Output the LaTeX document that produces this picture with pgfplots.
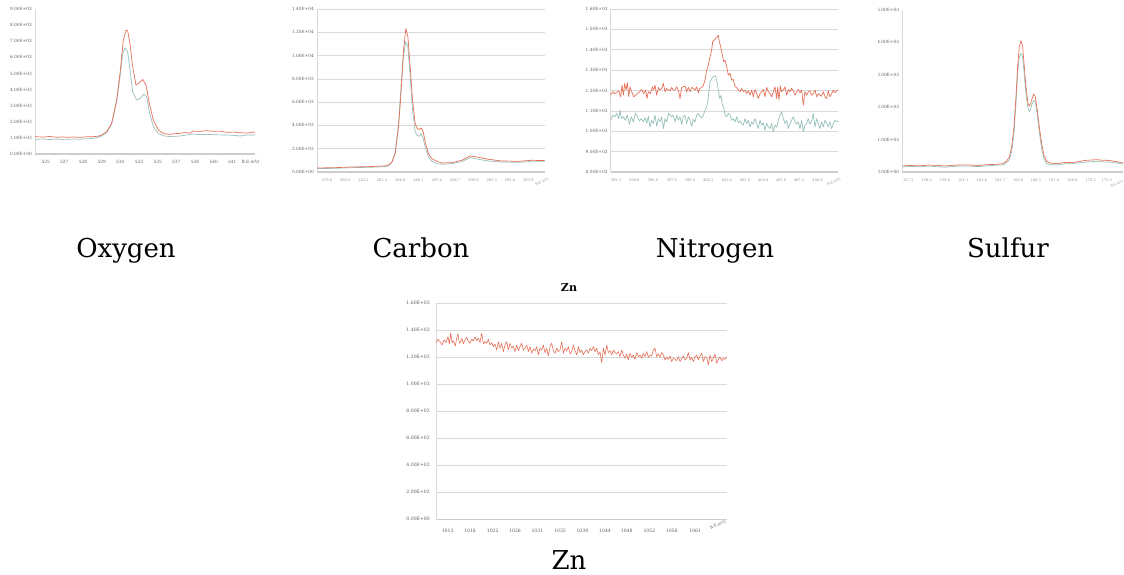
\documentclass[border=0pt]{standalone}
\usepackage{fontspec}
\setmainfont{DejaVu Serif}
\usepackage{pgfplots}
\pgfplotsset{compat=1.18}
\definecolor{sred}{RGB}{228,112,88}
\definecolor{steal}{RGB}{150,192,186}
\definecolor{gridc}{RGB}{217,217,217}
\definecolor{axc}{RGB}{205,205,205}
\definecolor{labc}{RGB}{95,95,95}
\pgfplotsset{
 xps/.style={scale only axis, anchor=south west, axis x line*=bottom, axis y line*=left,
   scaled ticks=false,
   x axis line style={draw=axc, line width=1.3pt}, y axis line style={draw=gridc, line width=0.6pt},
   major tick length=0pt, tick style={draw=none},
   grid style={draw=gridc, line width=0.6pt},
   yticklabel style={font=\fontsize{4.3}{5}\selectfont, text=labc, inner sep=1pt, xshift=-2pt},
   xticklabel style={font=\fontsize{3.6}{4}\selectfont, text=labc!70, yshift=-3pt},
   every axis plot/.append style={line width=0.7pt, mark=none, line join=round},
 }
}
\begin{document}
\begin{tikzpicture}
\useasboundingbox (0,0) rectangle (1124pt,575pt);
% ---------------- Oxygen
\begin{axis}[xps, at={(35pt,421pt)}, width=220pt, height=145pt,
  xmin=105, xmax=765, ymin=0, ymax=9000,
  ytick={0,1000,...,9000},
  yticklabels={0.00E+00,1.00E+03,2.00E+03,3.00E+03,4.00E+03,5.00E+03,6.00E+03,7.00E+03,8.00E+03,9.00E+03},
  xtick={137,193,249,305,361,417,473,529,585,641,697},
  xticklabels={525,527,528,529,530,533,535,537,538,540,541},
  xticklabel style={font=\fontsize{4.3}{5}\selectfont, text=labc}]
\addplot[steal] coordinates {(105,909)(130,930)(150,900)(170,920)(190,905)(200,909)(220,930)(240,915)(260,940)(280,970)(295,1040)(305,1116)(320,1322)(335,1860)(350,3243)(360,4793)(368,6200)(375,6590)(383,6343)(390,5207)(398,3864)(410,3347)(420,3450)(432,3719)(440,3554)(448,2624)(460,1694)(475,1281)(490,1136)(510,1074)(525,1100)(540,1116)(560,1180)(580,1240)(600,1200)(620,1219)(650,1190)(680,1178)(700,1160)(720,1116)(740,1180)(765,1178)};
\addplot[sred] coordinates {(105,1074)(130,1050)(150,1085)(170,1040)(190,1060)(200,1033)(220,1055)(240,1030)(260,1065)(280,1074)(295,1110)(305,1178)(320,1384)(335,1900)(350,3347)(360,5000)(370,7066)(378,7686)(383,7645)(390,6860)(398,5413)(408,4277)(418,4421)(428,4628)(438,4277)(448,3140)(460,2107)(475,1488)(490,1281)(500,1240)(510,1219)(525,1260)(540,1281)(555,1330)(570,1300)(580,1425)(600,1400)(620,1446)(640,1410)(660,1420)(680,1343)(700,1360)(720,1322)(740,1300)(765,1364)};
\end{axis}
\node[anchor=west, font=\fontsize{4.3}{5}\selectfont, text=labc] at (238pt,413pt) {B.E.(eV)};
% ---------------- Carbon
\begin{scope}
\clip (291pt,380pt) rectangle (560pt,575pt);
\begin{axis}[xps, at={(317pt,403pt)}, width=228pt, height=163pt,
  xmin=95, xmax=780, ymin=0, ymax=14000, ymajorgrids,
  ytick={0,2000,...,14000},
  yticklabels={0.00E+00,2.00E+03,4.00E+03,6.00E+03,8.00E+03,1.00E+04,1.20E+04,1.40E+04},
  xtick={125,180,235,290,345,400,455,510,565,620,675,730},
  xticklabels={279.6,280.9,282.2,283.5,284.8,286.1,287.4,288.7,290.0,291.3,292.6,293.9}]
\addplot[steal] coordinates {(95,287)(150,316)(200,373)(250,402)(300,459)(310,545)(320,804)(330,1722)(340,4162)(348,7605)(355,10045)(362,11193)(368,10763)(375,8180)(382,5310)(390,3444)(396,3157)(402,3071)(408,3301)(414,2870)(420,2153)(430,1292)(440,918)(455,718)(470,660)(500,718)(530,890)(555,1234)(575,1119)(610,947)(650,861)(700,832)(740,890)(780,890)};
\addplot[sred] coordinates {(95,344)(150,373)(200,431)(250,459)(300,517)(310,603)(320,861)(330,1579)(340,3875)(348,7032)(355,10476)(362,12341)(368,11624)(375,9041)(382,6171)(390,4162)(396,3731)(402,3645)(408,3788)(414,3444)(420,2583)(430,1579)(440,1148)(455,918)(470,775)(500,804)(530,1005)(555,1378)(575,1292)(610,1091)(650,947)(700,918)(740,1005)(780,976)};
\end{axis}
\end{scope}
\node[rotate=25, font=\fontsize{3.4}{4}\selectfont, text=labc!70] at (542pt,393pt) {B.E.(eV)};
% ---------------- Nitrogen
\begin{scope}
\clip (582pt,380pt) rectangle (850pt,575pt);
\begin{axis}[xps, at={(610.7pt,403pt)}, width=227.6pt, height=163pt,
  xmin=107, xmax=790, ymin=800, ymax=1600, ymajorgrids,
  ytick={800,900,...,1600},
  yticklabels={8.00E+02,9.00E+02,1.00E+03,1.10E+03,1.20E+03,1.30E+03,1.40E+03,1.50E+03,1.60E+03},
  xtick={122,178,234,290,345,400,455,510,565,618,672,728},
  xticklabels={393.2,394.6,396.0,397.4,398.8,400.2,401.6,403.0,404.4,405.8,407.2,408.6}]
\addplot[steal] coordinates {(107,1054)(113,1079)(119,1071)(125,1087)(131,1062)(135,1103)(139,1062)(145,1071)(151,1054)(157,1079)(163,1034)(169,1071)(175,1046)(181,1087)(187,1071)(193,1051)(199,1062)(205,1046)(210,1067)(215,1038)(220,1074)(225,1021)(230,1054)(235,1038)(240,1079)(245,1025)(250,1062)(255,1046)(260,1071)(265,1013)(270,1062)(275,1046)(280,1087)(285,1079)(290,1071)(295,1079)(300,1046)(305,1079)(310,1054)(315,1071)(320,1034)(325,1071)(330,1079)(335,1038)(340,1071)(345,1054)(350,1025)(355,1058)(360,1046)(365,1079)(370,1087)(375,1071)(380,1067)(385,1079)(390,1103)(395,1120)(400,1169)(405,1243)(410,1259)(414,1267)(418,1271)(422,1271)(426,1243)(430,1202)(434,1161)(438,1177)(442,1128)(446,1120)(450,1079)(455,1071)(460,1087)(465,1079)(470,1054)(475,1062)(480,1046)(485,1071)(490,1041)(495,1051)(500,1038)(505,1030)(510,1062)(515,1038)(520,1054)(525,1021)(530,1046)(535,1034)(540,1062)(545,1038)(550,1013)(555,1054)(560,1030)(565,1041)(570,1005)(575,1038)(580,1021)(585,1013)(590,1038)(595,997)(600,1030)(605,1021)(610,1054)(615,1079)(620,1095)(625,1062)(630,1038)(635,1054)(640,1013)(645,1038)(650,1054)(655,1071)(660,1046)(665,1034)(670,1046)(675,1013)(680,1054)(685,997)(690,1030)(695,1038)(700,1062)(705,1034)(710,1051)(715,1087)(720,1021)(725,1062)(730,1038)(735,1013)(740,1046)(745,1021)(750,1054)(755,1038)(760,1021)(765,1046)(770,1013)(775,1038)(780,1054)(785,1046)(790,1051)};
\addplot[sred] coordinates {(107,1177)(113,1194)(119,1185)(125,1189)(131,1199)(137,1169)(141,1226)(145,1177)(149,1235)(153,1202)(157,1238)(161,1169)(165,1218)(170,1194)(176,1169)(182,1177)(188,1185)(194,1194)(200,1205)(206,1185)(212,1202)(216,1161)(220,1194)(226,1185)(232,1218)(236,1202)(240,1226)(245,1177)(250,1215)(255,1202)(260,1210)(265,1235)(270,1194)(275,1210)(280,1202)(285,1199)(290,1215)(295,1202)(300,1202)(305,1218)(310,1202)(315,1161)(320,1215)(325,1218)(330,1222)(335,1194)(340,1215)(345,1194)(350,1215)(355,1210)(360,1202)(365,1218)(370,1189)(375,1210)(380,1215)(385,1226)(390,1251)(395,1300)(400,1325)(405,1366)(410,1399)(413,1440)(418,1448)(422,1456)(427,1464)(430,1472)(433,1440)(437,1415)(441,1382)(446,1341)(450,1349)(455,1317)(460,1276)(465,1284)(470,1251)(475,1254)(480,1218)(485,1215)(490,1202)(495,1194)(500,1210)(505,1194)(510,1202)(515,1185)(520,1199)(525,1177)(530,1202)(535,1169)(540,1205)(545,1185)(550,1161)(555,1185)(560,1194)(565,1205)(570,1169)(575,1215)(580,1194)(585,1185)(590,1169)(595,1194)(600,1218)(605,1161)(608,1215)(612,1153)(616,1222)(620,1194)(625,1202)(630,1218)(635,1177)(640,1205)(645,1194)(650,1210)(655,1199)(660,1177)(665,1194)(670,1205)(675,1189)(680,1202)(685,1128)(690,1194)(695,1177)(700,1194)(705,1199)(710,1177)(715,1185)(720,1202)(725,1169)(730,1185)(735,1177)(740,1172)(745,1194)(750,1169)(755,1161)(760,1199)(765,1169)(770,1185)(775,1202)(780,1189)(785,1199)(790,1202)};
\end{axis}
\end{scope}
\node[rotate=25, font=\fontsize{3.4}{4}\selectfont, text=labc!70] at (834pt,393pt) {B.E.(eV)};
% ---------------- Sulfur
\begin{scope}
\clip (878pt,380pt) rectangle (1124pt,575pt);
\begin{axis}[xps, at={(902.3pt,403pt)}, width=221pt, height=162pt,
  xmin=97, xmax=760, ymin=0, ymax=5000,
  ytick={0,1000,...,5000},
  yticklabels={0.00E+00,1.00E+03,2.00E+03,3.00E+03,4.00E+03,5.00E+03},
  xtick={115,170,225,280,335,390,445,497,552,607,662,710},
  xticklabels={157.2,158.5,159.8,161.1,162.4,163.7,165.0,166.3,167.6,168.9,170.2,171.5}]
\addplot[steal] coordinates {(97,155)(120,175)(150,160)(175,180)(200,165)(225,150)(250,170)(275,185)(300,180)(325,165)(350,190)(380,210)(400,217)(410,289)(418,381)(425,619)(432,1186)(438,2114)(443,3041)(448,3557)(453,3660)(458,3557)(463,2990)(468,2423)(474,1959)(479,1856)(485,2062)(491,2217)(496,2165)(502,1753)(508,1237)(515,722)(522,412)(530,258)(540,227)(560,217)(575,240)(590,258)(605,250)(620,278)(635,290)(650,309)(665,320)(680,330)(695,315)(710,309)(725,300)(740,278)(760,237)};
\addplot[sred] coordinates {(97,186)(120,200)(150,190)(175,215)(200,206)(225,185)(250,210)(275,220)(300,217)(325,200)(350,225)(380,237)(400,258)(410,340)(418,464)(425,773)(432,1392)(438,2320)(443,3248)(448,3866)(453,4052)(458,3866)(463,3248)(468,2629)(474,2114)(479,2031)(485,2217)(491,2402)(496,2320)(502,1907)(508,1392)(515,876)(522,515)(530,330)(540,278)(560,258)(575,280)(590,299)(605,290)(620,309)(635,340)(650,361)(665,370)(680,381)(695,365)(710,361)(725,345)(740,320)(760,278)};
\end{axis}
\end{scope}
\node[rotate=25, font=\fontsize{3.2}{4}\selectfont, text=labc!70] at (1117pt,391pt) {B.E.(eV)};
% ---------------- Zn
\begin{scope}
\clip (406pt,30pt) rectangle (745pt,300pt);
\begin{axis}[xps, at={(436pt,55.7pt)}, width=290.7pt, height=216pt,
  xmin=168, xmax=1040, ymin=0, ymax=1600, ymajorgrids,
  ytick={0,200,...,1600},
  yticklabels={0.00E+00,2.00E+02,4.00E+02,6.00E+02,8.00E+02,1.00E+03,1.20E+03,1.40E+03,1.60E+03},
  yticklabel style={font=\fontsize{4.6}{5}\selectfont, xshift=-3pt},
  xtick={203,270,338,405,472,540,607,675,740,808,875,945},
  xticklabels={1013,1018,1022,1026,1031,1035,1039,1044,1048,1052,1056,1061},
  xticklabel style={font=\fontsize{4.6}{5}\selectfont, text=labc, yshift=-3pt}]
\addplot[sred, line width=0.6pt] coordinates {(168,1304)(174,1333)(180,1316)(186,1291)(192,1328)(198,1309)(204,1353)(208,1299)(212,1378)(216,1309)(220,1323)(226,1284)(230,1341)(234,1373)(238,1304)(242,1316)(246,1341)(250,1299)(255,1328)(260,1348)(265,1316)(270,1304)(275,1333)(280,1321)(285,1353)(290,1323)(295,1341)(300,1309)(305,1378)(310,1299)(315,1316)(320,1304)(325,1333)(330,1291)(335,1309)(340,1279)(345,1299)(350,1254)(355,1316)(360,1267)(365,1304)(370,1242)(375,1291)(380,1316)(385,1254)(390,1304)(395,1267)(400,1284)(405,1242)(410,1291)(415,1249)(420,1279)(425,1304)(430,1254)(435,1267)(440,1291)(445,1242)(450,1279)(455,1230)(460,1259)(465,1249)(470,1279)(475,1217)(480,1267)(485,1254)(490,1291)(495,1235)(500,1267)(505,1210)(510,1279)(515,1304)(520,1249)(525,1230)(530,1267)(535,1242)(540,1254)(545,1316)(550,1230)(555,1267)(560,1249)(565,1279)(570,1225)(575,1242)(580,1291)(585,1249)(590,1217)(595,1279)(600,1235)(605,1254)(610,1217)(615,1242)(620,1254)(625,1230)(630,1267)(635,1249)(640,1279)(645,1242)(650,1267)(655,1217)(660,1242)(665,1160)(670,1267)(675,1217)(680,1291)(685,1235)(690,1249)(695,1217)(700,1254)(705,1235)(710,1225)(715,1242)(720,1205)(725,1254)(730,1217)(735,1193)(740,1225)(745,1180)(750,1230)(755,1200)(760,1217)(765,1185)(770,1235)(775,1205)(780,1217)(785,1193)(790,1230)(795,1205)(800,1242)(805,1200)(810,1217)(815,1210)(820,1254)(825,1267)(830,1205)(835,1225)(840,1200)(845,1235)(850,1217)(855,1180)(860,1200)(865,1185)(870,1210)(875,1168)(880,1193)(885,1185)(890,1175)(895,1205)(900,1168)(905,1193)(910,1210)(915,1180)(920,1193)(925,1235)(930,1180)(935,1200)(940,1168)(945,1205)(950,1217)(955,1180)(960,1210)(965,1230)(970,1168)(975,1205)(980,1200)(985,1143)(990,1217)(995,1168)(1000,1193)(1005,1225)(1010,1155)(1015,1185)(1020,1200)(1025,1175)(1030,1193)(1035,1185)(1040,1205)};
\end{axis}
\node[font=\bfseries\fontsize{11}{12}\selectfont] at (569pt,288pt) {Zn};
\end{scope}
\node[rotate=25, font=\fontsize{4}{4}\selectfont, text=labc] at (718pt,50pt) {B.E.(eV)};
% ---------------- captions
\node[anchor=base, font=\fontsize{26}{30}\selectfont] at (126pt,317pt) {Oxygen};
\node[anchor=base, font=\fontsize{26}{30}\selectfont] at (421pt,317pt) {Carbon};
\node[anchor=base, font=\fontsize{26}{30}\selectfont] at (715pt,317pt) {Nitrogen};
\node[anchor=base, font=\fontsize{26}{30}\selectfont] at (1008pt,317pt) {Sulfur};
\node[anchor=base, font=\fontsize{26}{30}\selectfont] at (569pt,5pt) {Zn};
\end{tikzpicture}
\end{document}
